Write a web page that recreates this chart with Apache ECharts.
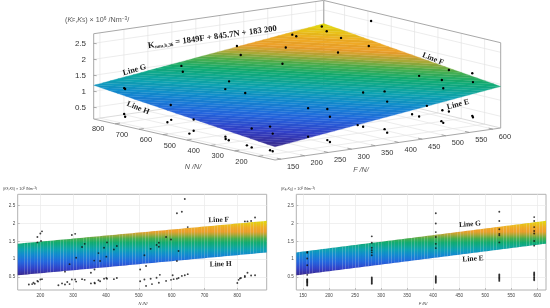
<!DOCTYPE html>
<html>
<head>
<meta charset="utf-8">
<style>html,body{margin:0;padding:0;background:#fff}#c{width:550px;height:308px;filter:blur(0.3px)}</style>
<script src="https://cdn.jsdelivr.net/npm/echarts@6/dist/echarts.min.js"></script>
</head>
<body>
<div id="c"></div>
<script>
// ---------- data ----------
const fitCoef = [1849, 845.7, 183200];
const rangeF = [137, 616.7];
const rangeN = [131, 889.5];
const rangeK = [0.135, 2.82];
const ticksF3d = [150,200,250,300,350,400,450,500,550,600];
const ticksN3d = [200,300,400,500,600,700,800];
const ticksK = [0.5,1,1.5,2,2.5];
const ticksNflat = [200,300,400,500,600,700,800];
const ticksFflat = [150,200,250,300,350,400,450,500,550,600];

const dots3dF = [158,158,158,158,158,158,158,158,158,158,158,158,158,158,158,158,158,158,158,158,
 282,282,282,282,282,282,282,282,282,282,282,
 405,405,405,405,405,405,405,405,405,405,405,
 527,527,527,527,527,527,527,527,527,527,527,527,
 594,594,594,594,594,594,594,594,594,594,594];
const dots3dN = [804,800,804,800,609,607,623,513,531,513,379,366,290,270,193,182,270,193,182,380,
 628,612,544,813,807,279,279,198,187,198,187,
 827,811,634,620,292,201,190,315,292,201,190,
 840,823,632,645,299,202,196,329,299,266,204,196,
 851,830,650,640,307,207,204,335,307,207,204];
const dots3dK = [1.20,1.18,0.39,0.31,1.00,0.54,0.44,0.71,0.24,0.36,0.33,0.31,0.28,0.25,0.29,0.28,0.84,1.03,0.83,0.40,
 1.20,1.47,1.22,1.61,1.44,0.31,1.20,1.31,1.09,0.34,0.30,
 1.94,1.69,1.72,2.25,1.41,1.60,1.30,0.35,0.34,0.42,0.33,
 2.01,1.99,2.27,1.79,1.66,1.70,1.45,0.41,0.39,0.78,0.41,0.37,
 2.10,1.99,1.84,2.64,1.69,1.76,1.49,0.38,0.39,0.43,0.39];

const flatNn = [191,200,205,191,202,296,306,327,335,309,289,275,354,365,364,382,377,394,403,401,424,433,
 504,522,517,536,554,561,561,583,598,616,621,616,631,640,649,823,831,842,854,
 165,175,179,183,191,193,200,205,255,266,275,282,289,296,306,309,327,335,354,365,366,377,382,394,401,403,424,433,
 504,517,522,536,540,554,561,564,583,598,603,606,616,621,631,640,649,800,804,808,811,823,823,831,842,854];
const flatNk = [1.62,1.72,1.78,1.47,1.51,1.68,1.71,1.34,1.43,1.04,0.86,0.65,0.62,0.71,0.96,0.95,1.17,1.32,1.47,1.07,1.27,1.37,
 0.71,0.81,1.11,1.29,1.40,1.46,1.35,1.62,1.55,0.95,1.23,2.29,2.33,2.69,1.90,2.06,2.06,2.07,2.17,
 0.29,0.30,0.34,0.31,0.39,0.37,0.43,0.44,0.27,0.32,0.29,0.36,0.30,0.43,0.43,0.37,0.44,0.42,0.32,0.34,0.32,0.41,0.38,0.45,0.47,0.45,0.44,0.47,
 0.38,0.43,0.25,0.45,0.30,0.48,0.34,0.56,0.39,0.42,0.55,0.44,0.45,0.47,0.53,0.55,0.58,0.33,0.42,0.46,0.47,0.53,0.50,0.62,0.54,0.55];

const flatFf = [158,158,158,158,158,158,158,158,158,158,158,158,158,158,
 282,282,282,282,282,282,282,282,282,282,282,282,282,
 405,405,405,405,405,405,405,405,405,405,405,405,405,
 527,527,527,527,527,527,527,527,527,527,527,527,527,
 594,594,594,594,594,594,594,594,594,594,594,594,594,594,594];
const flatFk = [1.20,1.18,1.02,0.83,0.56,0.44,0.42,0.40,0.38,0.36,0.34,0.31,0.28,0.26,
 1.64,1.46,1.32,1.25,1.19,1.11,0.49,0.46,0.43,0.40,0.37,0.34,0.31,
 2.29,2.00,1.76,1.62,1.43,1.31,0.52,0.49,0.46,0.43,0.40,0.37,0.34,
 2.33,2.07,1.84,1.71,1.67,1.47,0.57,0.54,0.51,0.48,0.45,0.42,0.39,
 2.18,2.07,1.90,1.79,1.72,1.51,1.38,0.63,0.60,0.57,0.54,0.50,0.47,0.44,0.41];

// ---------- helpers ----------
const K = (F, N) => (fitCoef[0]*F + fitCoef[1]*N + fitCoef[2]) / 1e6;
const kLo = K(rangeF[0], rangeN[0]), kHi = K(rangeF[1], rangeN[1]);
const palette = [[0,'#3b2a8e'],[0.12,'#3340c8'],[0.25,'#2468e0'],[0.38,'#128cd0'],[0.48,'#0ea5b0'],[0.6,'#12ad72'],
 [0.68,'#4eaf4c'],[0.74,'#a8aa38'],[0.8,'#ec9f2c'],[0.88,'#f0ad24'],[1,'#e2dc0c']];
function hex(c){return [1,3,5].map(i=>parseInt(c.substr(i,2),16));}
function colorAt(t, scale){
  t=Math.max(0,Math.min(1,t));
  for(let i=1;i<palette.length;i++){
    if(t<=palette[i][0]){
      const a=palette[i-1],b=palette[i],f=(t-a[0])/(b[0]-a[0]),A=hex(a[1]),B=hex(b[1]);
      return 'rgb('+A.map((v,j)=>Math.round((v+(B[j]-v)*f)*(scale||1))).join(',')+')';
    }
  }
  return palette[palette.length-1][1];
}
function project(F,N,Kv){
  const u=(F-rangeF[0])/(rangeF[1]-rangeF[0]), v=(N-rangeN[0])/(rangeN[1]-rangeN[0]);
  return [275+225.7*u-181.3*v+4.3*u*v, 160-32*u-41*v-1.3*u*v-32*(Kv-rangeK[0])];
}
function clipPoly(pts,limit,keepAbove){
  const out=[];
  for(let i=0;i<pts.length;i++){
    const a=pts[i],b=pts[(i+1)%pts.length],ka=K(a[0],a[1]),kb=K(b[0],b[1]);
    const ina=keepAbove?ka>=limit:ka<=limit, inb=keepAbove?kb>=limit:kb<=limit;
    if(ina) out.push(a);
    if(ina!==inb){const f=(limit-ka)/(kb-ka);out.push([a[0]+(b[0]-a[0])*f,a[1]+(b[1]-a[1])*f]);}
  }
  return out;
}
const fa=rangeF[0],fb=rangeF[1],na=rangeN[0],nb=rangeN[1],zb=2.8,za=rangeK[0];

// 3D frame segments
const gridC='#e4e4e4', edgeC='#a8a8a8';
const segs=[];
const seg=(p,q,c,w)=>segs.push({p,q,c,w});
ticksK.forEach(k=>{seg([fa,nb,k],[fb,nb,k],gridC,.7);seg([fb,nb,k],[fb,na,k],gridC,.7);});
ticksF3d.forEach(f=>{seg([f,nb,za],[f,nb,zb],gridC,.7);seg([f,na,za],[f,nb,za],gridC,.7);});
ticksN3d.forEach(n=>{seg([fb,n,za],[fb,n,zb],gridC,.7);seg([fa,n,za],[fb,n,za],gridC,.7);});
seg([fa,nb,za],[fb,nb,za],'#cccccc',.7);seg([fb,nb,za],[fb,na,za],'#cccccc',.7);
seg([fa,nb,zb],[fb,nb,zb],edgeC,1);seg([fb,nb,zb],[fb,na,zb],edgeC,1);
seg([fb,nb,za],[fb,nb,zb],'#b4b4b4',1.4);
seg([fa,nb,za],[fa,nb,zb],edgeC,1);seg([fb,na,za],[fb,na,zb],edgeC,1);
seg([fa,nb,za],[fa,na,za],edgeC,1);seg([fa,na,za],[fb,na,za],edgeC,1);

// surface bands of equal K
const bandCount=52, bands=[];
for(let i=0;i<bandCount;i++){
  const lo=kLo+(kHi-kLo)*i/bandCount, hi=kLo+(kHi-kLo)*(i+1)/bandCount;
  const corners=[[fa,na],[fb,na],[fb,nb],[fa,nb]];
  const poly=clipPoly(clipPoly(corners,lo,true),hi,false);
  bands.push({poly,c:colorAt((i+.5)/bandCount,i%2?0.97:1)});
}
const stripCount=76;
const gradStops=[];
for(let i=0;i<=40;i++) gradStops.push({offset:i/40,color:colorAt(1-i/40)});

function frameSeries(){
  return {type:'custom',coordinateSystem:'none',silent:true,z:2,data:segs.map((s,i)=>[i]),
    renderItem(params){
      const s=segs[params.dataIndex],a=project(s.p[0],s.p[1],s.p[2]),b=project(s.q[0],s.q[1],s.q[2]);
      return {type:'line',shape:{x1:a[0],y1:a[1],x2:b[0],y2:b[1]},style:{stroke:s.c,lineWidth:s.w}};
    }};
}
function surfaceSeries(){
  return {type:'custom',coordinateSystem:'none',silent:true,z:3,data:bands.map((s,i)=>[i]),
    renderItem(params){
      const b=bands[params.dataIndex];
      return {type:'polygon',shape:{points:b.poly.map(p=>project(p[0],p[1],K(p[0],p[1])))},
        style:{fill:b.c,stroke:b.c,lineWidth:.3}};
    }};
}
function dotSeries(){
  return {type:'custom',coordinateSystem:'none',silent:true,z:4,data:dots3dF.map((f,i)=>[f,dots3dN[i],dots3dK[i]]),
    renderItem(params,api){
      const p=project(api.value(0),api.value(1),api.value(2));
      return {type:'circle',shape:{cx:p[0],cy:p[1],r:1.2},style:{fill:'#000'}};
    }};
}
function tickLabels3d(){
  const items=[];
  ticksN3d.forEach(n=>items.push({t:String(n),p:project(fa,n,za),dx:-17,dy:5.5,al:'center',tk:[project(fa,n,za),project(fa+10,n,za)]}));
  ticksF3d.forEach(f=>items.push({t:String(f),p:project(f,na,za),dx:12,dy:7.5,al:'center',tk:[project(f,na,za),project(f,na+18,za)]}));
  ticksK.forEach(k=>{const p=project(fa,nb,k);items.push({t:String(k),p:[86,p[1]],dx:0,dy:0,al:'right',fs:8,tk:[p,[p[0]+3,p[1]+.4]]});});
  return {type:'custom',coordinateSystem:'none',silent:true,z:2,data:items.map((s,i)=>[i]),
    renderItem(params){
      const s=items[params.dataIndex];
      return {type:'group',children:[
        {type:'line',shape:{x1:s.tk[0][0],y1:s.tk[0][1],x2:s.tk[1][0],y2:s.tk[1][1]},style:{stroke:'#888',lineWidth:.7}},
        {type:'text',x:s.p[0]+s.dx,y:s.p[1]+s.dy,style:{text:s.t,font:(s.fs||7.4)+'px "Liberation Sans"',fill:'#333',textAlign:s.al,textVerticalAlign:'middle'}}
      ]};
    }};
}

// flat panels
function bandFlat(gridIndex,axisRange,otherRange,fKey){
  const data=[];
  for(let i=0;i<stripCount;i++){
    const a=axisRange[0]+(axisRange[1]-axisRange[0])*i/stripCount, b=axisRange[0]+(axisRange[1]-axisRange[0])*(i+1)/stripCount;
    data.push([a,b]);
  }
  const Kf=fKey==='N'?(x,o)=>K(o,x):(x,o)=>K(x,o);
  return {type:'custom',xAxisIndex:gridIndex,yAxisIndex:gridIndex,silent:true,z:3,data,encode:{x:[0,1]},clip:true,
    renderItem(params,api){
      const a=api.value(0),b=api.value(1);
      const pts=[api.coord([a,Kf(a,otherRange[0])]),api.coord([b,Kf(b,otherRange[0])]),api.coord([b,Kf(b,otherRange[1])]),api.coord([a,Kf(a,otherRange[1])])];
      const yTop=api.coord([a,kHi])[1],yBot=api.coord([a,kLo])[1];
      return {type:'polygon',shape:{points:pts},style:{
        fill:{type:'linear',x:0,y:yTop,x2:0,y2:yBot,global:true,colorStops:gradStops},
        stroke:'rgba(0,0,0,0.04)',lineWidth:.6}};
    }};
}
function axisPair(gridIndex,range,ticks){
  const tickStyle={show:true,inside:true,length:2,lineStyle:{color:'#999',width:.6}};
  const lab={fontSize:4.6,color:'#444',fontFamily:'Liberation Sans'};
  return {
    x:{type:'value',gridIndex,min:range[0],max:range[1],
      axisLine:{show:false},axisTick:{...tickStyle,customValues:ticks},
      axisLabel:{...lab,margin:3,customValues:ticks,hideOverlap:false},
      splitLine:{show:true,lineStyle:{color:'#e9e9e9',width:.7}}},
    y:{type:'value',gridIndex,min:rangeK[0],max:rangeK[1],
      axisLine:{show:false},axisTick:{...tickStyle,customValues:ticksK},
      axisLabel:{...lab,margin:2.5,customValues:ticksK,hideOverlap:false},
      splitLine:{show:true,lineStyle:{color:'#e9e9e9',width:.7}}}
  };
}
const a0=axisPair(0,rangeN,ticksNflat), a1=axisPair(1,rangeF,ticksFflat);
const gridBox={show:true,borderColor:'#b2b2b2',borderWidth:1,backgroundColor:'transparent'};

const serif='"Liberation Serif"';
function note(t,x,y,deg,size){
  return {type:'text',x,y,rotation:(deg||0)*Math.PI/180,z:20,silent:true,
    style:{text:t,font:'bold '+(size||8)+'px '+serif,fill:'#1a1a1a',textAlign:'center',textVerticalAlign:'middle'}};
}
function richTitle(x,y,size,color){
  const s=size, sm=size*.68, it='italic '+s+'px "Liberation Sans"';
  return {type:'text',x,y,z:20,silent:true,style:{
    text:'({i|K}{sub|F},{i|K}{sub|S}) × 10{sup|6} /Nm{sup|−3}/',
    font:s+'px "Liberation Sans"',fill:color,textAlign:'left',textVerticalAlign:'middle',
    rich:{i:{font:it,fill:color},sub:{fontSize:sm,verticalAlign:'bottom',fill:color,padding:[sm*.4,0,0,0]},sup:{fontSize:sm,verticalAlign:'top',fill:color,padding:[0,0,sm*.4,0]}}}};
}

const option={
  animation:false,backgroundColor:'#fff',
  grid:[{left:17.7,top:194.3,width:249,height:95.7,...gridBox},{left:296.3,top:194.3,width:249.7,height:95.7,...gridBox}],
  xAxis:[a0.x,a1.x],yAxis:[a0.y,a1.y],
  graphic:{elements:[
    richTitle(65,20,7.2,'#555'),
    {type:'text',x:148,y:46,rotation:0.135,z:20,silent:true,style:{
      text:'{k|K}{s|mm,b,36}{k| = 1849F + 845.7N + 183 200}',textAlign:'left',textVerticalAlign:'middle',
      rich:{k:{font:'bold 8.7px '+serif,fill:'#1a1a1a'},s:{font:'bold 5px '+serif,fill:'#1a1a1a',verticalAlign:'bottom',padding:[3,0,0,0]}}}},
    note('Line G',134.5,70,15.7),note('Line H',138,108,-22),note('Line F',433,59,-22),note('Line E',458,104.5,15),
    {type:'text',x:193,y:167,z:20,silent:true,style:{text:'N /N/',font:'italic 7.2px "Liberation Sans"',fill:'#555',textAlign:'center',textVerticalAlign:'middle'}},
    {type:'text',x:361,y:170,z:20,silent:true,style:{text:'F /N/',font:'italic 7.2px "Liberation Sans"',fill:'#555',textAlign:'center',textVerticalAlign:'middle'}},
    richTitle(3,189,3.8,'#444'),richTitle(281,189.3,3.8,'#444'),
    note('Line F',218.7,220,2,7.4),note('Line H',220.7,264.3,2,7.4),note('Line G',470,224.3,4.5,7.4),note('Line E',473,259,3.5,7.4),
    {type:'text',x:143,y:304,z:20,silent:true,style:{text:'N /N/',font:'italic 4px "Liberation Sans"',fill:'#444',textAlign:'center',textVerticalAlign:'middle'}},
    {type:'text',x:423,y:304,z:20,silent:true,style:{text:'F /N/',font:'italic 4px "Liberation Sans"',fill:'#444',textAlign:'center',textVerticalAlign:'middle'}}
  ]},
  series:[
    frameSeries(),tickLabels3d(),surfaceSeries(),dotSeries(),
    bandFlat(0,rangeN,rangeF,'N'),
    bandFlat(1,rangeF,rangeN,'F'),
    {type:'scatter',xAxisIndex:0,yAxisIndex:0,symbol:'circle',symbolSize:1.9,itemStyle:{color:'#111'},z:5,silent:true,
      data:flatNn.map((n,i)=>[n,flatNk[i]])},
    {type:'scatter',xAxisIndex:1,yAxisIndex:1,symbol:'circle',symbolSize:1.9,itemStyle:{color:'#111'},z:5,silent:true,
      data:flatFf.map((f,i)=>[f,flatFk[i]])}
  ]
};
echarts.init(document.getElementById('c'),null,{renderer:'canvas'}).setOption(option);
</script>
</body>
</html>
